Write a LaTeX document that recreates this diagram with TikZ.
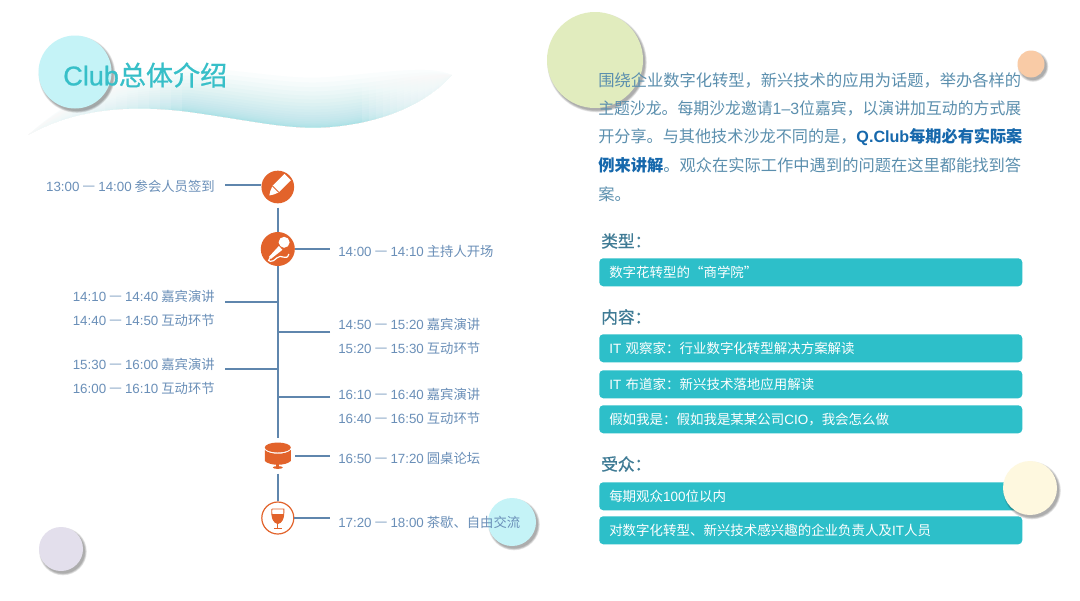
\documentclass[tikz,border=0pt]{standalone}
\usepackage{fontspec}
\usepackage{color}
\setmainfont{Noto Sans CJK SC}
\newfontfamily\latfont{Liberation Sans}
\newfontfamily\midfont[FakeBold=0.8]{Noto Sans CJK SC}
\newfontfamily\midlat[FakeBold=0.8]{Liberation Sans}
\definecolor{teal1}{HTML}{2DBFC9}
\definecolor{teal2}{HTML}{37BFC8}
\definecolor{line1}{HTML}{5F86AD}
\definecolor{time1}{HTML}{6A8FB8}
\definecolor{para1}{HTML}{5B8FAE}
\definecolor{bold1}{HTML}{1668AC}
\definecolor{head1}{HTML}{3F7B95}
\definecolor{orange1}{HTML}{E2632B}
\definecolor{spotcyan}{HTML}{C5F3F7}
\definecolor{spotgreen}{HTML}{E1ECBE}
\definecolor{spotorange}{HTML}{F9CBA6}
\definecolor{spotyellow}{HTML}{FEF8DF}
\definecolor{spotviolet}{HTML}{E3DFEC}
\tikzset{
	timelab/.style={font=\fontsize{10}{12}\selectfont,text=time1,inner sep=0pt},
	leftlab/.style={timelab,anchor=east},
	rightlab/.style={timelab,anchor=west},
	paraline/.style={font=\fontsize{12.2}{14}\selectfont,text=para1,inner sep=0pt,anchor=west},
	headlab/.style={font=\fontsize{12.5}{14}\selectfont\midfont,text=head1,inner sep=0pt,anchor=west},
	tagbox/.style={fill=teal1,rounded corners=3pt,anchor=north west,minimum height=21pt,text width=302.25pt,
		inner xsep=7.5pt,inner ysep=0pt,align=left,text=white,font=\fontsize{10.1}{12}\selectfont},
	iconbox/.style={circle,fill=orange1,minimum size=24.5pt,inner sep=0pt},
	spine/.style={draw=line1,line width=1.1pt},
}
\newcommand{\spot}[4]{% x, y, radius, colour
	\foreach \d in {3,2,1,0}
		\fill[black,opacity=0.09] (#1+2,#2+2.5) circle ({#3+\d*0.6});
	\fill[#4] (#1,#2) circle (#3);
}
\newcommand{\tspan}[2]{{\latfont #1 \raisebox{0.9pt}{\fontsize{8.6}{8}\selectfont —} #2}}
\begin{document}
\begin{tikzpicture}[x=0.75pt,y=-0.75pt]
	\useasboundingbox (0,0) rectangle (1080,600);
	\fill[white] (0,0) rectangle (1080,600);

	% wave under the title
	\foreach \i [evaluate=\i as \k using \i*\i/8] in {1,...,20}
		\fill[teal1,opacity=0.024] (28,135) .. controls (70,112) and (120,103) .. (190,112)
			.. controls (260,122) and (290,130) .. (330,127) .. controls (390,122) and (430,100) .. (452,75)
			.. controls (430,100-\k*0.7) and (390,122-\k) .. (330,127-\k)
			.. controls (290,130-\k) and (260,122-\k) .. (190,112-\k*0.9)
			.. controls (120,103-\k*0.6) and (70,112-\k*0.3) .. (28,135) -- cycle;
	\foreach \j in {1,...,14} {
		\fill[white,opacity=0.13] (20,50) rectangle (28+\j*11,140);
		\fill[white,opacity=0.13] (460-\j*7,40) rectangle (460,140);
	}

	% round spots behind the text
	\spot{75}{72}{36.5}{spotcyan}
	\spot{595}{60}{48}{spotgreen}
	\spot{1031}{64}{13.5}{spotorange}
	\spot{512}{522}{24}{spotcyan}
	\spot{61}{549}{22}{spotviolet}

	\node[text=teal2,inner sep=0pt,anchor=west,font=\fontsize{20.3}{24}\selectfont] (title) at (63,75) {{\midlat Club}{\midfont 总体介绍}};

	% timeline icons
	\node[iconbox] (pen) at (277.8,187) {};
	\node[iconbox,minimum size=25.5pt] (mic) at (277.8,249) {};
	\node[circle,minimum size=26pt,inner sep=0pt] (table) at (277.8,456) {};
	\node[circle,draw=orange1,line width=0.9pt,fill=white,minimum size=24pt,inner sep=0pt] (wine) at (277.8,518) {};

	\fill[white,rotate around={45:(pen)}] ([shift={(-12,0)}]pen.center) -- ([shift={(-8,-2.5)}]pen.center)
		-- ([shift={(-3,-4.5)}]pen.center) -- ([shift={(14,-4.5)}]pen.center) -- ([shift={(14,4.5)}]pen.center)
		-- ([shift={(-3,4.5)}]pen.center) -- ([shift={(-8,2.5)}]pen.center) -- cycle;
	\draw[orange1,line width=0.6pt,rotate around={45:(pen)}] ([shift={(-3,-4.5)}]pen.center) -- ([shift={(-3,4.5)}]pen.center);

	\fill[white] ([shift={(6.3,-6.7)}]mic.center) circle (5.5);
	\fill[white] ([shift={(1.5,-3.5)}]mic.center) -- ([shift={(5,0.5)}]mic.center) -- ([shift={(-7,10)}]mic.center) -- ([shift={(-9,8)}]mic.center) -- cycle;
	\draw[orange1,line width=0.6pt] ([shift={(1,-4)}]mic.center) -- ([shift={(5.5,1)}]mic.center);
	\draw[white,line width=0.9pt] ([shift={(-8,9)}]mic.center) .. controls ([shift={(-12,13)}]mic.center) and ([shift={(-5,14)}]mic.center) .. ([shift={(-1,9)}]mic.center)
		.. controls ([shift={(3,4)}]mic.center) and ([shift={(9,13)}]mic.center) .. ([shift={(11,5)}]mic.center);

	\fill[orange1] ([shift={(-13,-6)}]table.center) -- ([shift={(-13,5)}]table.center) .. controls ([shift={(-8,10)}]table.center) and ([shift={(8,10)}]table.center) .. ([shift={(13,5)}]table.center)
		-- ([shift={(13,-6)}]table.center) .. controls ([shift={(8,-1)}]table.center) and ([shift={(-8,-1)}]table.center) .. cycle;
	\fill[orange1] ([shift={(0,-8.5)}]table.center) ellipse (13 and 5);
	\fill[orange1] ([shift={(-1.5,8)}]table.center) rectangle ([shift={(1.5,11)}]table.center);
	\fill[orange1] ([shift={(0,11.5)}]table.center) ellipse (5 and 1.4);

	\draw[orange1,line width=0.7pt] ([shift={(-6,-9)}]wine.center) -- ([shift={(6,-9)}]wine.center) .. controls ([shift={(6.5,0)}]wine.center) and ([shift={(4,5)}]wine.center) .. ([shift={(0,5.5)}]wine.center)
		.. controls ([shift={(-4,5)}]wine.center) and ([shift={(-6.5,0)}]wine.center) .. ([shift={(-6,-9)}]wine.center);
	\fill[orange1] ([shift={(-6,-4)}]wine.center) -- ([shift={(6,-4)}]wine.center) .. controls ([shift={(6,1)}]wine.center) and ([shift={(4,5)}]wine.center) .. ([shift={(0,5.5)}]wine.center)
		.. controls ([shift={(-4,5)}]wine.center) and ([shift={(-6,1)}]wine.center) .. cycle;
	\draw[orange1,line width=0.7pt] ([shift={(0,5.5)}]wine.center) -- ([shift={(0,10)}]wine.center)
		([shift={(-4,10.5)}]wine.center) -- ([shift={(4,10.5)}]wine.center);

	% timeline labels
	\node[leftlab] (t1) at (215,186) {\tspan{13:00}{14:00} 参会人员签到};
	\node[rightlab] (t2) at (338,251) {\tspan{14:00}{14:10} 主持人开场};
	\node[leftlab] (t3) at (215,296) {\tspan{14:10}{14:40} 嘉宾演讲};
	\node[leftlab] (t4) at (215,320) {\tspan{14:40}{14:50} 互动环节};
	\node[rightlab] (t5) at (338,324) {\tspan{14:50}{15:20} 嘉宾演讲};
	\node[rightlab] (t6) at (338,348) {\tspan{15:20}{15:30} 互动环节};
	\node[leftlab] (t7) at (215,364) {\tspan{15:30}{16:00} 嘉宾演讲};
	\node[leftlab] (t8) at (215,388) {\tspan{16:00}{16:10} 互动环节};
	\node[rightlab] (t9) at (338,394) {\tspan{16:10}{16:40} 嘉宾演讲};
	\node[rightlab] (t10) at (338,418) {\tspan{16:40}{16:50} 互动环节};
	\node[rightlab] (t11) at (338,458) {\tspan{16:50}{17:20} 圆桌论坛};
	\node[rightlab] (t12) at (338,522) {\tspan{17:20}{18:00} 茶歇、自由交流};

	% connectors
	\coordinate (e1) at (225,185);
	\coordinate (e2) at (330,249);
	\coordinate (e3) at (225,302);
	\coordinate (e5) at (330,332);
	\coordinate (e7) at (225,369);
	\coordinate (e9) at (330,397);
	\coordinate (e11) at (330,456);
	\coordinate (e12) at (330,518);
	\draw[spine] (e1)--(pen.west|-e1);
	\draw[spine] (mic.east)--(e2);
	\draw[spine,shorten <=3pt] (pen.south)--(mic.north);
	\draw[spine] (mic.south)--(table.north);
	\draw[spine] (table.south)--(wine.north);
	\draw[spine] (e3)--(mic.south|-e3);
	\draw[spine] (e5)--(mic.south|-e5);
	\draw[spine] (e7)--(mic.south|-e7);
	\draw[spine] (e9)--(mic.south|-e9);
	\draw[spine] (table.east)--(e11);
	\draw[spine] (wine.east)--(e12);

	% right column
	\node[paraline] (p1) at (598,80) {围绕企业数字化转型，新兴技术的应用为话题，举办各样的};
	\node[paraline] (p2) at (598,108) {\scalebox{0.975}[1]{主题沙龙。每期沙龙邀请{\latfont 1–3}位嘉宾，以演讲加互动的方式展}};
	\node[paraline] (p3) at (598,137) {\scalebox{0.992}[1]{开分享。与其他技术沙龙不同的是，\textcolor{bold1}{\textbf{{\latfont Q.Club}每期必有实际案}}}};
	\node[paraline] (p4) at (598,165) {\textcolor{bold1}{\textbf{例来讲解}}。观众在实际工作中遇到的问题在这里都能找到答};
	\node[paraline] (p5) at (598,194) {案。};

	\node[headlab] (h1) at (601,241) {类型：};
	\node[tagbox] (b1) at (599,258) {数字花转型的“商学院”};
	\node[headlab] (h2) at (601,317) {内容：};
	\node[tagbox] (b2) at (599,334) {{\latfont IT} 观察家：行业数字化转型解决方案解读};
	\node[tagbox] (b3) at (599,370) {{\latfont IT} 布道家：新兴技术落地应用解读};
	\node[tagbox] (b4) at (599,405) {假如我是：假如我是某某公司{\latfont CIO}，我会怎么做};
	\node[headlab] (h3) at (601,464) {受众：};
	\node[tagbox] (b5) at (599,482) {每期观众{\latfont 100}位以内};
	\node[tagbox] (b6) at (599,516) {对数字化转型、新兴技术感兴趣的企业负责人及{\latfont IT}人员};

	\spot{1030}{488}{27}{spotyellow}
\end{tikzpicture}
\end{document}
